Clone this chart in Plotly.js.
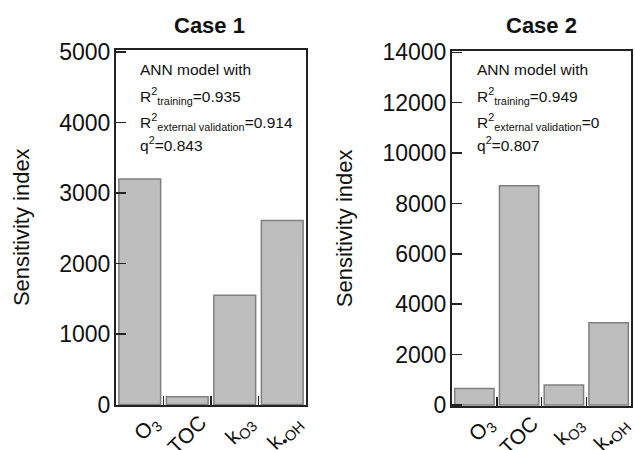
<!DOCTYPE html>
<html>
<head>
<meta charset="utf-8">
<script src="https://cdn.plot.ly/plotly-3.0.1.min.js"></script>
<style>html,body{margin:0;padding:0;background:#fff;}#chart{width:635px;height:450px;}</style>
</head>
<body>
<div id="chart"></div>
<script>
// ---- data ----
const categories = ["O<sub>3</sub>", "TOC", "k<sub>O3</sub>", "k<sub>•OH</sub>"];
const case1Values = [3200, 110, 1550, 2610];
const case2Values = [650, 8700, 790, 3260];
const panelTitles = ["Case 1", "Case 2"];
const yTitle = "Sensitivity index";
const case1Stats = ["ANN model with", "R<sup>2</sup><sub>training</sub>=0.935", "R<sup>2</sup><sub>external validation</sub>=0.914", "q<sup>2</sup>=0.843"];
const case2Stats = ["ANN model with", "R<sup>2</sup><sub>training</sub>=0.949", "R<sup>2</sup><sub>external validation</sub>=0", "q<sup>2</sup>=0.807"];

const FONT = "Arial, 'Liberation Sans', sans-serif";
const barStyle = {color: "rgb(190,190,190)", line: {color: "rgb(128,128,128)", width: 1.5}};

const traces = [
  {type: "bar", x: categories, y: case1Values, xaxis: "x", yaxis: "y", marker: barStyle, hoverinfo: "x+y"},
  {type: "bar", x: categories, y: case2Values, xaxis: "x2", yaxis: "y2", marker: barStyle, hoverinfo: "x+y"}
];

function xAxis(domain, anchor) {
  return {
    domain: domain, anchor: anchor, type: "category",
    showline: true, mirror: true, linecolor: "#222", linewidth: 2,
    ticks: "inside", tickson: "boundaries", ticklen: 9, tickwidth: 1.5, tickcolor: "#222",
    tickangle: -45, ticklabelshift: 13, ticklabelstandoff: -5,
    tickfont: {family: FONT, size: 21, color: "#111"},
    showgrid: false, zeroline: false, fixedrange: true
  };
}
function yAxis(domain, anchor, range, dtick) {
  return {
    domain: domain, anchor: anchor, range: range, dtick: dtick, tick0: 0,
    tickformat: "d",
    showline: true, mirror: true, linecolor: "#222", linewidth: 2,
    ticks: "inside", ticklen: 10, tickwidth: 1.5, tickcolor: "#222",
    ticklabelstandoff: -1,
    tickfont: {family: FONT, size: 23, color: "#111"},
    title: {text: yTitle, font: {family: FONT, size: 22, color: "#111"}, standoff: 24},
    showgrid: false, zeroline: false, fixedrange: true
  };
}

const annotations = [];
const titleX = [0.33, 0.852];
panelTitles.forEach((t, i) => {
  annotations.push({text: "<b>" + t + "</b>", xref: "paper", yref: "paper", x: titleX[i], y: 1 - 25/450,
    xanchor: "center", yanchor: "middle", showarrow: false, font: {family: FONT, size: 22, color: "#111"}});
});
const statLineY = [80, 109, 135, 156];
function addStats(lines, xPx) {
  lines.forEach((s, i) => {
    annotations.push({text: s, xref: "paper", yref: "paper", x: xPx/635, y: 1 - statLineY[i]/450,
      xanchor: "left", yanchor: "bottom", showarrow: false, align: "left",
      font: {family: FONT, size: 15.5, color: "#111"}});
  });
}
addStats(case1Stats, 138);
addStats(case2Stats, 475);

const layout = {
  width: 635, height: 450,
  margin: {l: 0, r: 0, t: 0, b: 0},
  paper_bgcolor: "#fff", plot_bgcolor: "#fff",
  showlegend: false, bargap: 0.12,
  xaxis: xAxis([116/635, 306/635], "y"),
  yaxis: yAxis([1 - 405/450, 1 - 49.5/450], "x", [-7, 5035], 1000),
  xaxis2: xAxis([452/635, 631/635], "y2"),
  yaxis2: yAxis([1 - 406/450, 1 - 50.7/450], "x2", [-40, 14065], 2000),
  annotations: annotations,
  font: {family: FONT, color: "#111"}
};

Plotly.newPlot("chart", traces, layout, {displayModeBar: false, staticPlot: true});
</script>
</body>
</html>
